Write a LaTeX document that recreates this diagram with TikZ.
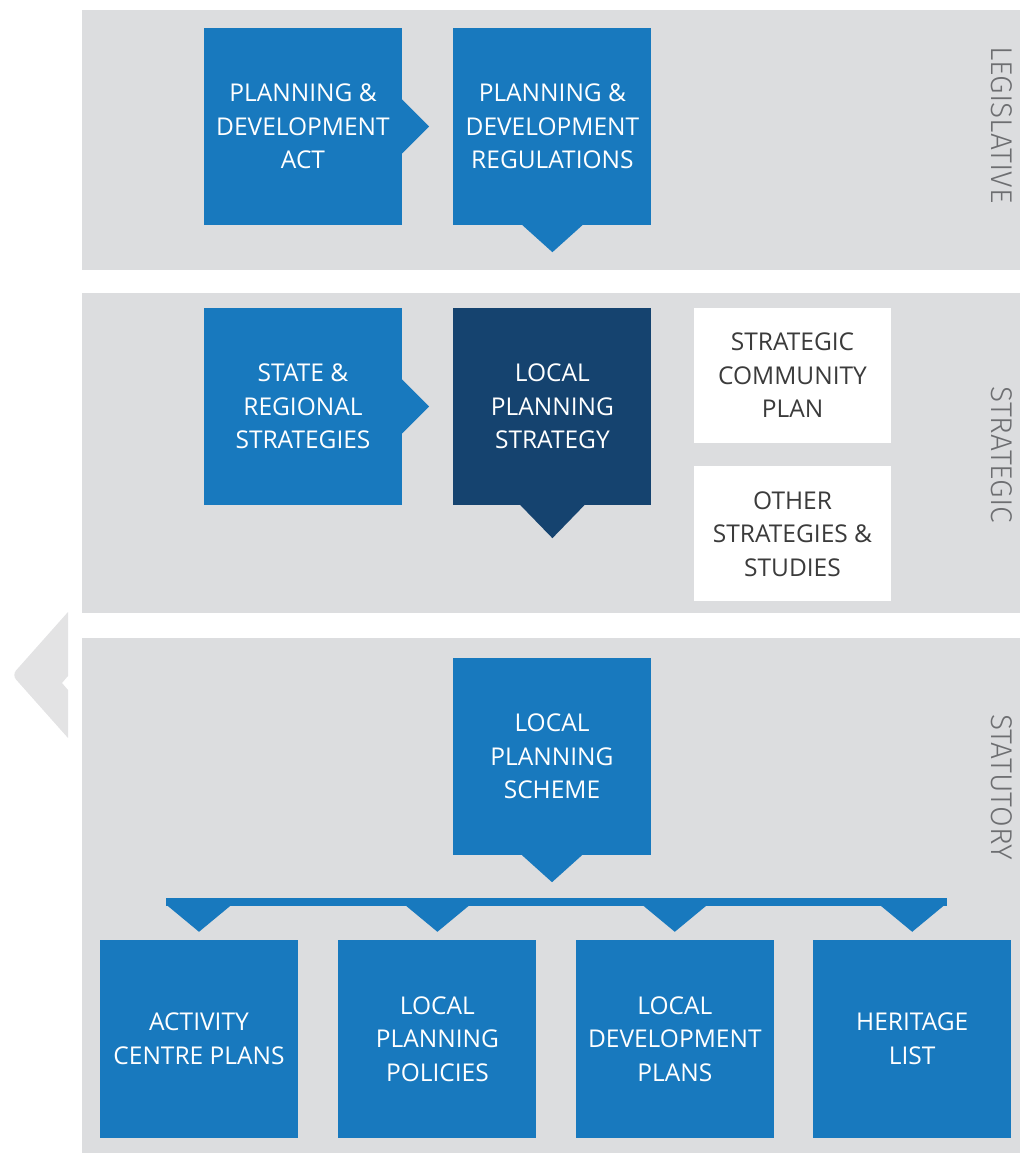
\documentclass[tikz,border=0pt]{standalone}
\usepackage{fontspec}
\setmainfont{Open Sans}
\newfontfamily\sidefont{Fira Sans Light}
\usetikzlibrary{positioning}
\definecolor{planblue}{HTML}{1879BE}
\definecolor{plannavy}{HTML}{15436F}
\definecolor{bandgray}{HTML}{DCDDDF}
\definecolor{chevgray}{HTML}{E3E3E4}
\definecolor{sidegray}{HTML}{6D6E71}
\definecolor{notetext}{HTML}{3B3B3B}

\begin{document}
\begin{tikzpicture}[x=1pt, y=1pt,
  block/.style={fill=planblue, text=white, minimum width=198pt, minimum height=197pt, inner sep=0pt, align=center, font=\fontsize{24.5}{33.5}\selectfont},
  darkblock/.style={block, fill=plannavy},
  lowblock/.style={block, minimum height=198pt},
  note/.style={fill=white, text=notetext, minimum width=197pt, minimum height=135pt, inner sep=0pt, align=center, font=\fontsize{24.5}{33.5}\selectfont},
  band/.style={fill=bandgray},
  side/.style={rotate=-90, text=sidegray, font=\sidefont\fontsize{30}{32}\selectfont}]
\useasboundingbox (0,0) rectangle (1020,1153);

\fill[band] (82,883) rectangle (1020,1143);
\fill[band] (82,540) rectangle (1020,860);
\fill[band] (82,0) rectangle (1020,515);
\fill[chevgray] (68,541) [rounded corners=6pt] -- (12,478) [sharp corners] -- (68,415) -- (68,463) -- (62,470) -- (68,477) -- cycle;

\node[block](act) at (303,1026.5){PLANNING \&\\DEVELOPMENT\\ACT};
\node[block, right=51pt of act](regs){PLANNING \&\\DEVELOPMENT\\REGULATIONS};
\node[side](leg) at (1002,1028){LEGISLATIVE};

\node[block](state) at (303,746.5){STATE \&\\REGIONAL\\STRATEGIES};
\node[darkblock, right=51pt of state](lps){LOCAL\\PLANNING\\STRATEGY};
\node[note](scp) at (792.5,777.5){STRATEGIC\\COMMUNITY\\PLAN};
\node[note, below=23pt of scp](other){OTHER\\STRATEGIES \&\\STUDIES};
\node[side](strat) at (1002,698){STRATEGIC};

\node[block](scheme) at (552,396.5){LOCAL\\PLANNING\\SCHEME};
\node[lowblock](acp) at (199,114){ACTIVITY\\CENTRE PLANS};
\node[lowblock, right=40pt of acp](lpp){LOCAL\\PLANNING\\POLICIES};
\node[lowblock, right=39pt of lpp](ldp){LOCAL\\DEVELOPMENT\\PLANS};
\node[lowblock, right=39pt of ldp](hl){HERITAGE\\LIST};
\node[side](stat) at (1002,366){STATUTORY};

\fill[planblue] ([yshift=27pt]act.east) -- ++(27,-27) -- ++(-27,-27) -- cycle;
\fill[planblue] ([yshift=27pt]state.east) -- ++(27,-27) -- ++(-27,-27) -- cycle;
\fill[planblue] ([xshift=-30pt]regs.south) -- ++(30,-27) -- ++(30,27) -- cycle;
\fill[plannavy] ([xshift=-32pt]lps.south) -- ++(32,-33) -- ++(32,33) -- cycle;
\fill[planblue] ([xshift=-30pt]scheme.south) -- ++(30,-27) -- ++(30,27) -- cycle;
\fill[planblue] ([xshift=-33pt,yshift=42pt]acp.north) rectangle ([xshift=35pt,yshift=34pt]hl.north);
\foreach \n in {acp,lpp,ldp,hl}
  \fill[planblue] ([xshift=-32pt,yshift=34.5pt]\n.north) -- ([yshift=8pt]\n.north) -- ([xshift=32pt,yshift=34.5pt]\n.north) -- cycle;
\end{tikzpicture}
\end{document}
